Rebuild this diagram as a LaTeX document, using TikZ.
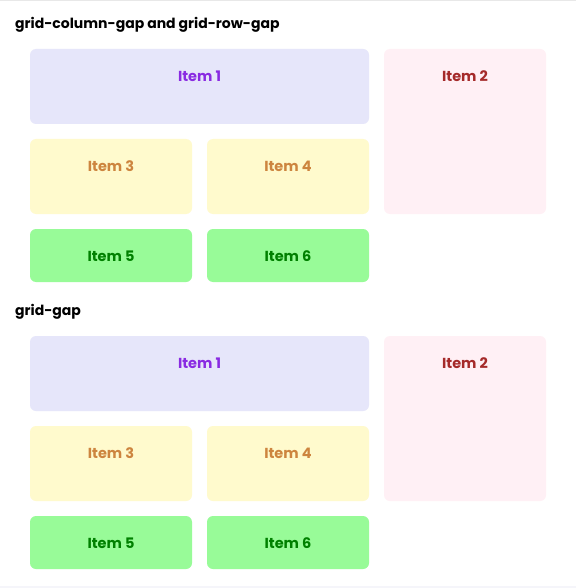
\documentclass[tikz,border=0pt]{standalone}
\usepackage{fontspec}
\setmainfont{Poppins}
\definecolor{lav}{HTML}{E6E6FA}
\definecolor{bviolet}{HTML}{8A2BE2}
\definecolor{lblush}{HTML}{FFF0F5}
\definecolor{brwn}{HTML}{A52A2A}
\definecolor{lemon}{HTML}{FFFACD}
\definecolor{peru}{HTML}{CD853F}
\definecolor{pgreen}{HTML}{98FB98}
\definecolor{dgreen}{HTML}{008000}
\definecolor{topline}{HTML}{E8E8E8}
\definecolor{botline}{HTML}{F5F5FA}
\tikzset{
  cell/.style={rounded corners=6pt, draw=none},
  lbl/.style={font=\bfseries\fontsize{14.5}{16}\selectfont, inner sep=0pt},
  ttl/.style={font=\bfseries\fontsize{14}{16}\selectfont, inner sep=0pt, anchor=west, text=black},
}
\begin{document}
\begin{tikzpicture}[x=1pt,y=-1pt]
\useasboundingbox (0,0) rectangle (576,588);
\fill[white] (0,0) rectangle (576,588);
\fill[topline] (0,0) rectangle (576,1.5);
\fill[botline] (0,586) rectangle (576,588);
\foreach \s/\oy/\t in {a/0/{grid-column-gap and grid-row-gap}, b/287/{grid-gap}} {
  \begin{scope}[yshift=-\oy pt]
  \node[ttl] (\s t) at (15,24.5) {\t};
  \fill[cell, lav] (30,49) rectangle (369,124);
  \node[lbl, text=bviolet] (\s1) at (199.5,76.5) {Item 1};
  \fill[cell, lblush] (384,49) rectangle (546,214);
  \node[lbl, text=brwn] (\s2) at (465,76.5) {Item 2};
  \fill[cell, lemon] (30,139) rectangle (192,214);
  \node[lbl, text=peru] (\s3) at (111,166.5) {Item 3};
  \fill[cell, lemon] (207,139) rectangle (369,214);
  \node[lbl, text=peru] (\s4) at (288,166.5) {Item 4};
  \fill[cell, pgreen] (30,229) rectangle (192,282);
  \node[lbl, text=dgreen] (\s5) at (111,256.5) {Item 5};
  \fill[cell, pgreen] (207,229) rectangle (369,282);
  \node[lbl, text=dgreen] (\s6) at (288,256.5) {Item 6};
  \end{scope}
}
\end{tikzpicture}
\end{document}
